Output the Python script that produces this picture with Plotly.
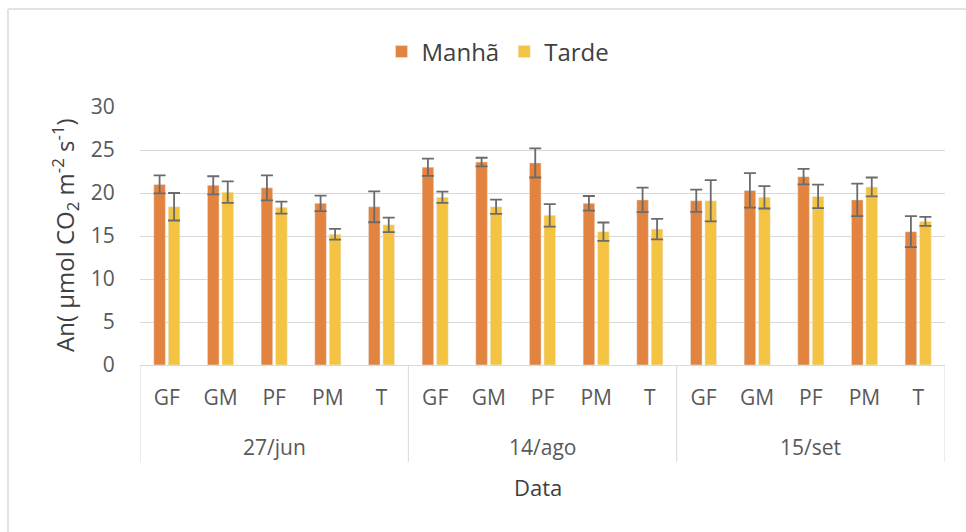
import plotly.graph_objects as go

dates = ["27/jun", "14/ago", "15/set"]
treatments = ["GF", "GM", "PF", "PM", "T"]

manha = [21.0, 20.9, 20.6, 18.8, 18.4,
         23.0, 23.6, 23.5, 18.8, 19.2,
         19.1, 20.3, 21.9, 19.2, 15.5]
manha_err = [1.05, 1.05, 1.45, 0.9, 1.8,
             1.0, 0.5, 1.7, 0.85, 1.43,
             1.3, 2.0, 0.9, 1.9, 1.8]
tarde = [18.4, 20.1, 18.3, 15.2, 16.3,
         19.5, 18.4, 17.4, 15.5, 15.8,
         19.1, 19.5, 19.6, 20.7, 16.7]
tarde_err = [1.6, 1.25, 0.7, 0.62, 0.84,
             0.65, 0.82, 1.3, 1.07, 1.2,
             2.4, 1.3, 1.37, 1.1, 0.53]

n_t = len(treatments)
xpos = list(range(len(dates) * n_t))
xlabels = [t for _ in dates for t in treatments]

W, H = 966, 532
L, R, T, B = 140, 21, 107, 167
pw = W - L - R
ph = H - T - B

def py(pix):
    return (H - B - pix) / ph

def px(pix):
    return (pix - L) / pw

fig = go.Figure()
err_style = dict(type="data", color="#6b6b6b", thickness=1.8, width=6)
fig.add_trace(go.Bar(x=xpos, y=manha, name="Manhã", marker_color="#E2843F",
                     error_y=dict(array=manha_err, **err_style)))
fig.add_trace(go.Bar(x=xpos, y=tarde, name="Tarde", marker_color="#F5C342",
                     error_y=dict(array=tarde_err, **err_style)))

# chart border (left & top visible)
fig.add_shape(type="line", xref="paper", yref="paper",
              x0=px(8), x1=px(W + 5), y0=py(9), y1=py(9),
              line=dict(color="#e3e3e3", width=2))
fig.add_shape(type="line", xref="paper", yref="paper",
              x0=px(8), x1=px(8), y0=py(9), y1=py(H + 5),
              line=dict(color="#e3e3e3", width=2))

# group dividers
for i in range(len(dates) + 1):
    xv = i * n_t - 0.5
    fig.add_shape(type="line", xref="x", yref="paper", x0=xv, x1=xv,
                  y0=0, y1=py(462), line=dict(color="#d9d9d9", width=1))

# outer category labels
for i, d in enumerate(dates):
    fig.add_annotation(x=i * n_t + (n_t - 1) / 2, xref="x", y=py(447), yref="paper",
                       text=d, showarrow=False, yanchor="middle",
                       font=dict(size=21, color="#595959"))

fig.add_annotation(x=px(538), xref="paper", y=py(487), yref="paper", text="Data",
                   showarrow=False, yanchor="middle",
                   font=dict(size=22, color="#404040"))
fig.add_annotation(x=px(65), xref="paper", y=py(235), yref="paper",
                   text="An( µmol CO<sub>2</sub> m<sup>-2</sup> s<sup>-1</sup>)",
                   showarrow=False, textangle=-90, xanchor="center", yanchor="middle",
                   font=dict(size=24, color="#404040"))

fig.update_layout(
    width=W, height=H,
    margin=dict(l=L, r=R, t=T, b=B),
    paper_bgcolor="white", plot_bgcolor="white",
    barmode="group", bargap=0.46, bargroupgap=0.2,
    font=dict(family="Open Sans", color="#595959", size=21),
    showlegend=True,
    legend=dict(orientation="h", x=px(498), xanchor="center", y=py(52), yanchor="middle",
                font=dict(size=24, color="#404040"), itemwidth=30),
    yaxis=dict(range=[0, 30], dtick=5, showgrid=True, gridcolor="#d9d9d9",
               gridwidth=1, zeroline=False, showline=False,
               tickfont=dict(size=21, color="#595959"),
               ticks="outside", ticklen=20, tickcolor="rgba(0,0,0,0)"),
    xaxis=dict(range=[-0.5, len(xpos) - 0.5], tickvals=xpos, ticktext=xlabels,
               showline=True, linecolor="#d9d9d9", linewidth=1, showgrid=False,
               zeroline=False, ticks="outside", ticklen=14,
               tickcolor="rgba(0,0,0,0)",
               tickfont=dict(size=21, color="#595959")),
)

fig.write_html("out.html", config={"displayModeBar": False},
               post_script="document.body.style.margin='0px';")
